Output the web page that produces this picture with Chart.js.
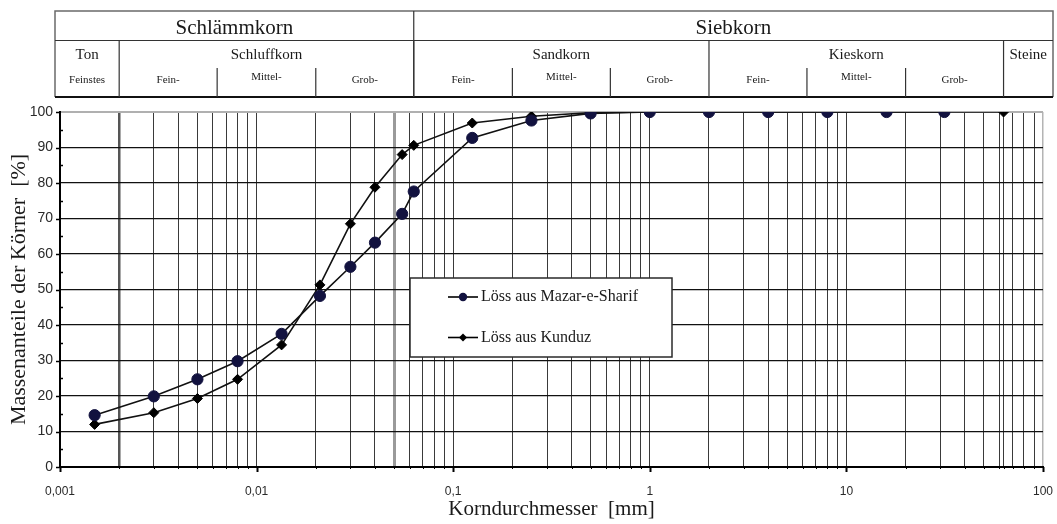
<!DOCTYPE html>
<html>
<head>
<meta charset="utf-8">
<title>Kornverteilung</title>
<script src="https://cdn.jsdelivr.net/npm/chart.js@4.4.1/dist/chart.umd.min.js"></script>
<style>
  html, body { margin: 0; padding: 0; background: #fff; }
  #c { display: block; }
</style>
</head>
<body>
<canvas id="c" width="1057" height="524"></canvas>
<script>
// Sieblinien: Korndurchmesser [mm] und Siebdurchgang [%]
const diametersMazar = [0.0015, 0.003, 0.005, 0.008, 0.0134, 0.021, 0.03, 0.04, 0.055, 0.063, 0.125, 0.25, 0.5, 1, 2, 4, 8, 16, 31.5];
const passingMazar   = [14.6, 19.9, 24.7, 29.8, 37.5, 48.2, 56.4, 63.2, 71.3, 77.6, 92.7, 97.6, 99.6, 100, 100, 100, 100, 100, 100];

const diametersKunduz = [0.0015, 0.003, 0.005, 0.008, 0.0134, 0.021, 0.03, 0.04, 0.055, 0.063, 0.125, 0.25, 0.5, 1, 2, 4, 8, 16, 31.5, 63];
const passingKunduz   = [12.0, 15.3, 19.3, 24.7, 34.4, 51.3, 68.5, 78.8, 88.0, 90.6, 96.9, 98.8, 99.8, 100, 100, 100, 100, 100, 100, 100];

const seriesNames = ['Löss aus Mazar-e-Sharif', 'Löss aus Kunduz'];

// Achsbeschriftung
const decadeTicks  = [0.001, 0.01, 0.1, 1, 10, 100];
const decadeLabels = ['0,001', '0,01', '0,1', '1', '10', '100'];
const extraGridValues = [63];
const xTitle = 'Korndurchmesser  [mm]';
const yTitle = 'Massenanteile der Körner  [%]';

// Kornklassen (Kopftabelle)
const groupNames  = ['Schlämmkorn', 'Siebkorn'];
const groupBounds = [0.063];
const soilNames   = ['Ton', 'Schluffkorn', 'Sandkorn', 'Kieskorn', 'Steine'];
const soilBounds  = [0.002, 0.063, 2, 63];
const subNames    = ['Feinstes', 'Fein-', 'Mittel-', 'Grob-', 'Fein-', 'Mittel-', 'Grob-', 'Fein-', 'Mittel-', 'Grob-', ''];
const subBounds   = [0.002, 0.0063, 0.02, 0.063, 0.2, 0.63, 2, 6.3, 20, 63];

const SERIF = '"Liberation Serif", "DejaVu Serif", serif';
const SANS  = '"Liberation Sans", Arial, sans-serif';

const near = (a, b) => Math.abs(a - b) < b * 1e-6;

// Gitterlinien der logarithmischen Achse: 1..9 je Dekade
const xGridValues = [];
decadeTicks.slice(0, -1).forEach(d => {
  for (let m = 1; m <= 9; m++) xGridValues.push(parseFloat((m * d).toPrecision(6)));
});
xGridValues.push(decadeTicks[decadeTicks.length - 1], ...extraGridValues);
xGridValues.sort((a, b) => a - b);

const toPoints = (xs, ys) => xs.map((x, i) => ({ x, y: ys[i] }));

// Kopftabelle mit Kornklassen über dem Diagramm
const headerPlugin = {
  id: 'kornklassen',
  afterDraw(chart) {
    const { ctx, chartArea } = chart;
    const x = chart.scales.x;
    const L = chartArea.left - 5, R = chartArea.right + 10;
    const T = 11, M = 40.5, S = 68, B = 97;
    const px = v => x.getPixelForValue(v);
    ctx.save();
    ctx.lineCap = 'butt';
    // Rahmen
    ctx.strokeStyle = '#6a6a6a';
    ctx.lineWidth = 1.5;
    ctx.beginPath();
    ctx.moveTo(L, B); ctx.lineTo(L, T); ctx.lineTo(R, T); ctx.lineTo(R, B);
    ctx.stroke();
    ctx.strokeStyle = '#111';
    ctx.lineWidth = 2;
    ctx.beginPath(); ctx.moveTo(L, B); ctx.lineTo(R, B); ctx.stroke();
    ctx.strokeStyle = '#333';
    ctx.lineWidth = 1.2;
    ctx.beginPath(); ctx.moveTo(L, M); ctx.lineTo(R, M); ctx.stroke();
    // Trennlinien
    groupBounds.forEach(v => { ctx.beginPath(); ctx.moveTo(px(v), T); ctx.lineTo(px(v), B); ctx.stroke(); });
    soilBounds.forEach(v => { ctx.beginPath(); ctx.moveTo(px(v), M); ctx.lineTo(px(v), B); ctx.stroke(); });
    subBounds.forEach(v => {
      if (soilBounds.some(s => near(v, s))) return;
      ctx.beginPath(); ctx.moveTo(px(v), S); ctx.lineTo(px(v), B); ctx.stroke();
    });
    // Texte
    ctx.fillStyle = '#1a1a1a';
    ctx.textAlign = 'center';
    ctx.textBaseline = 'alphabetic';
    const gEdges = [L, ...groupBounds.map(px), R];
    ctx.font = '21px ' + SERIF;
    groupNames.forEach((n, i) => ctx.fillText(n, (gEdges[i] + gEdges[i + 1]) / 2, 34));
    const sEdges = [L, ...soilBounds.map(px), R];
    ctx.font = '15px ' + SERIF;
    soilNames.forEach((n, i) => ctx.fillText(n, (sEdges[i] + sEdges[i + 1]) / 2, 58.5));
    const fEdges = [L, ...subBounds.map(px), R];
    ctx.font = '11px ' + SERIF;
    subNames.forEach((n, i) => {
      if (!n) return;
      const yb = n.startsWith('Mittel') ? 79.5 : 82.5;
      ctx.fillText(n, (fEdges[i] + fEdges[i + 1]) / 2, yb);
    });
    ctx.restore();
  }
};

// Achsstriche (Haupt- und Zwischenstriche)
const tickMarksPlugin = {
  id: 'achsstriche',
  afterDraw(chart) {
    const { ctx, chartArea } = chart;
    const { x, y } = chart.scales;
    ctx.save();
    ctx.strokeStyle = '#000';
    for (let v = 0; v <= 100; v += 5) {
      const py = Math.round(y.getPixelForValue(v)) + 0.5;
      ctx.lineWidth = 1.5;
      ctx.beginPath();
      if (v % 10 === 0) { ctx.moveTo(chartArea.left - 4, py); ctx.lineTo(chartArea.left + 1, py); }
      else { ctx.moveTo(chartArea.left, py); ctx.lineTo(chartArea.left + 3, py); }
      ctx.stroke();
    }
    xGridValues.forEach(v => {
      const p = Math.round(x.getPixelForValue(v)) + 0.5;
      const major = decadeTicks.some(d => near(v, d));
      ctx.lineWidth = major ? 2 : 1;
      ctx.beginPath();
      ctx.moveTo(p, chartArea.bottom);
      ctx.lineTo(p, chartArea.bottom + (major ? 5 : 2));
      ctx.stroke();
    });
    ctx.restore();
  }
};

// Legende im Diagrammfeld
const legendBoxPlugin = {
  id: 'legendenkasten',
  afterDraw(chart) {
    const { ctx } = chart;
    const bx = 410, by = 278, bw = 262, bh = 79;
    ctx.save();
    ctx.fillStyle = '#fff';
    ctx.fillRect(bx, by, bw, bh);
    ctx.strokeStyle = '#2a2a2a';
    ctx.lineWidth = 1.5;
    ctx.strokeRect(bx, by, bw, bh);
    chart.data.datasets.forEach((ds, i) => {
      const cy = by + 19 + i * 40.5;
      ctx.strokeStyle = '#000';
      ctx.lineWidth = 1.6;
      ctx.beginPath(); ctx.moveTo(448, cy); ctx.lineTo(478, cy); ctx.stroke();
      ctx.fillStyle = ds.pointBackgroundColor;
      ctx.beginPath();
      if (ds.pointStyle === 'circle') {
        ctx.arc(463, cy, 4.2, 0, Math.PI * 2);
      } else {
        const r = 4;
        ctx.moveTo(463, cy - r); ctx.lineTo(463 + r, cy); ctx.lineTo(463, cy + r); ctx.lineTo(463 - r, cy);
        ctx.closePath();
      }
      ctx.fill();
      ctx.fillStyle = '#1a1a1a';
      ctx.font = '16px ' + SERIF;
      ctx.textAlign = 'left';
      ctx.textBaseline = 'middle';
      ctx.fillText(ds.label, 481, cy);
    });
    ctx.restore();
  }
};

new Chart(document.getElementById('c'), {
  type: 'line',
  data: {
    datasets: [
      {
        label: seriesNames[0],
        data: toPoints(diametersMazar, passingMazar),
        borderColor: '#111',
        borderWidth: 1.6,
        pointStyle: 'circle',
        pointRadius: 5.6,
        pointBackgroundColor: '#12123f',
        pointBorderColor: '#12123f',
        pointBorderWidth: 1,
        tension: 0
      },
      {
        label: seriesNames[1],
        data: toPoints(diametersKunduz, passingKunduz),
        borderColor: '#111',
        borderWidth: 1.6,
        pointStyle: 'rectRot',
        pointRadius: 5,
        pointBackgroundColor: '#000',
        pointBorderColor: '#000',
        pointBorderWidth: 1,
        tension: 0
      }
    ]
  },
  options: {
    responsive: false,
    animation: false,
    layout: { padding: { top: 112, right: 14, left: 0, bottom: 0 } },
    plugins: { legend: { display: false }, tooltip: { enabled: false } },
    scales: {
      x: {
        type: 'logarithmic',
        min: 0.001,
        max: 100,
        afterFit: s => { s.height = 57; s.paddingLeft = 0; s.paddingRight = 0; },
        afterBuildTicks: s => { s.ticks = xGridValues.map(v => ({ value: v })); },
        ticks: {
          autoSkip: false,
          maxRotation: 0,
          padding: 17,
          color: '#2a2a2a',
          font: { family: SANS, size: 12 },
          callback: v => {
            const i = decadeTicks.findIndex(d => near(v, d));
            return i >= 0 ? decadeLabels[i] : '';
          }
        },
        grid: {
          drawTicks: false,
          color: c => {
            const v = c.tick.value;
            if (near(v, 0.05)) return '#9a9a9a';
            if (near(v, 100)) return '#b4b4b4';
            if (near(v, 0.002)) return '#555';
            return '#3a3a3a';
          },
          lineWidth: c => {
            const v = c.tick.value;
            if (near(v, 0.05)) return 3;
            if (near(v, 0.002)) return 2.5;
            if (near(v, 100)) return 1.5;
            return 1;
          }
        },
        border: { color: '#000', width: 2 },
        title: {
          display: true,
          text: xTitle,
          color: '#1a1a1a',
          font: { family: SERIF, size: 21 },
          padding: { top: 0, bottom: 2 }
        }
      },
      y: {
        min: 0,
        max: 100,
        afterFit: s => { s.width = 60; s.paddingTop = 0; s.paddingBottom = 0; },
        ticks: {
          stepSize: 10,
          padding: 7,
          color: '#2a2a2a',
          font: { family: SANS, size: 14 }
        },
        grid: {
          drawTicks: false,
          color: c => (c.tick.value === 100 ? '#b0b0b0' : '#111'),
          lineWidth: c => (c.tick.value === 100 ? 2 : 1.3)
        },
        border: { color: '#000', width: 2 },
        title: {
          display: true,
          text: yTitle,
          color: '#1a1a1a',
          font: { family: SERIF, size: 22 },
          padding: { top: 6, bottom: 0 }
        }
      }
    }
  },
  plugins: [headerPlugin, tickMarksPlugin, legendBoxPlugin]
});
</script>
</body>
</html>
